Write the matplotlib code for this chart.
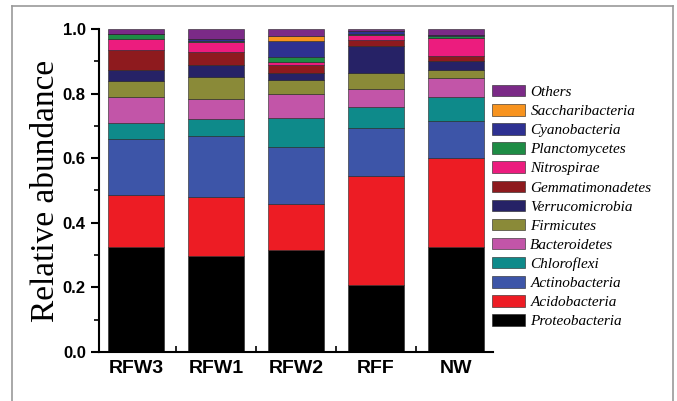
import numpy as np
import matplotlib
matplotlib.use('Agg')
from matplotlib import pyplot as plt
from matplotlib.lines import Line2D

samples = ['RFW3', 'RFW1', 'RFW2', 'RFF', 'NW']

# phyla from the bottom of the stack upwards
phyla = ['Proteobacteria', 'Acidobacteria', 'Actinobacteria', 'Chloroflexi',
         'Bacteroidetes', 'Firmicutes', 'Verrucomicrobia', 'Gemmatimonadetes',
         'Nitrospirae', 'Planctomycetes', 'Cyanobacteria', 'Saccharibacteria',
         'Others']

colors = ['#000000', '#ED1C24', '#3D55A8', '#0E8A8A', '#C255A8', '#8A8A38',
          '#262266', '#8E1A1E', '#EC1C7E', '#1E8C45', '#2E3192', '#F7931E',
          '#7B2A87']

# cumulative tops, one list per sample
tops_rfw3 = [0.325, 0.487, 0.659, 0.708, 0.789, 0.840, 0.874, 0.936, 0.970, 0.984, 0.986, 0.986, 1.0]
tops_rfw1 = [0.298, 0.480, 0.668, 0.721, 0.783, 0.851, 0.889, 0.930, 0.959, 0.964, 0.968, 0.968, 1.0]
tops_rfw2 = [0.315, 0.459, 0.634, 0.726, 0.800, 0.842, 0.863, 0.889, 0.898, 0.914, 0.963, 0.979, 1.0]
tops_rff = [0.206, 0.546, 0.692, 0.758, 0.813, 0.865, 0.946, 0.966, 0.982, 0.984, 0.994, 0.994, 1.0]
tops_nw = [0.325, 0.602, 0.715, 0.789, 0.848, 0.874, 0.900, 0.915, 0.972, 0.978, 0.981, 0.981, 1.0]

tops = np.array([tops_rfw3, tops_rfw1, tops_rfw2, tops_rff, tops_nw])
values = np.diff(np.hstack([np.zeros((len(samples), 1)), tops]), axis=1)

fig = plt.figure(figsize=(6.77, 4.01), dpi=100)
ax = fig.add_axes([99 / 677, 49 / 401, 394 / 677, 323 / 401])

x = np.arange(len(samples))
bottom = np.zeros(len(samples))
handles = []
for i, name in enumerate(phyla):
    h = ax.bar(x, values[:, i], 0.69, bottom=bottom, color=colors[i],
               edgecolor='#222222', linewidth=0.4, label=name)
    handles.append(h)
    bottom += values[:, i]

ax.set_xlim(-0.4625, 4.4625)
ax.set_ylim(0, 1.0)
for side in ['top', 'right']:
    ax.spines[side].set_visible(False)
for side in ['left', 'bottom']:
    ax.spines[side].set_linewidth(1.5)

ax.set_xticks(x)
ax.set_xticklabels(samples, fontfamily='Liberation Sans', fontweight='bold', fontsize=14)
ax.set_xticks([0.5, 1.5, 2.5, 3.5], minor=True)
ax.tick_params(axis='x', which='major', length=0, pad=6)
ax.tick_params(axis='x', which='minor', direction='in', length=4, width=1.2)

ax.set_yticks(np.arange(0, 1.01, 0.2))
ax.set_yticklabels([f'{v:.1f}' for v in np.arange(0, 1.01, 0.2)],
                   fontfamily='Liberation Sans', fontweight='bold', fontsize=12)
ax.set_yticks(np.arange(0.1, 1.0, 0.2), minor=True)
ax.tick_params(axis='y', which='major', direction='out', length=6, width=1.5)
ax.tick_params(axis='y', which='minor', direction='out', length=3.5, width=1.2)

ax.set_ylabel('Relative abundance', fontfamily='Liberation Serif', fontsize=24, labelpad=1)

leg = fig.legend(handles[::-1], phyla[::-1], loc='upper left',
                 bbox_to_anchor=(492 / 677, 1 - 85 / 401), bbox_transform=fig.transFigure,
                 frameon=False, borderpad=0, borderaxespad=0,
                 handlelength=2.16, handleheight=0.78, handletextpad=0.35,
                 labelspacing=0.33,
                 prop={'family': 'Liberation Serif', 'style': 'italic', 'size': 11})

# thin grey frame around the picture, open at the bottom
for xs, ys in [([12, 12], [0, 395]), ([12, 673], [395, 395]), ([673, 673], [395, 0])]:
    fig.add_artist(Line2D(np.array(xs) / 677, np.array(ys) / 401, color='#999999', linewidth=1.2))

fig.savefig('out.png', dpi=100)
